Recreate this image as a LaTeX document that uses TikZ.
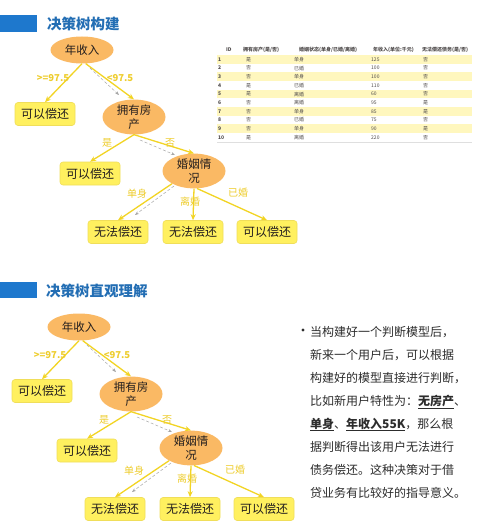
\documentclass[tikz,border=0pt]{standalone}
\usepackage{fontspec}
\setmainfont{Noto Sans CJK SC}
\usepackage{tikz}
\usetikzlibrary{shapes.geometric, arrows.meta}
\definecolor{barblue}{RGB}{30,120,205}
\definecolor{titleblue}{RGB}{35,110,180}
\definecolor{ellorange}{RGB}{250,185,100}
\definecolor{leafyellow}{RGB}{255,240,95}
\definecolor{leafedge}{RGB}{240,222,90}
\definecolor{arrowyellow}{RGB}{242,212,35}
\definecolor{labelyellow}{RGB}{238,205,45}
\definecolor{tblyellow}{RGB}{255,247,190}
\definecolor{mydark}{RGB}{35,30,30}
\definecolor{bodygray}{RGB}{45,45,45}
\newcommand{\keyword}[1]{\underline{\textbf{#1}}}
\tikzset{
  decnode/.style={ellipse, fill=ellorange, inner sep=0pt,
    minimum width=63pt, minimum height=27pt, align=center,
    font=\fontsize{11.5}{14}\selectfont, text=mydark},
  leafbox/.style={rectangle, rounded corners=3pt, fill=leafyellow,
    draw=leafedge, line width=0.6pt, minimum width=60pt,
    minimum height=23pt, inner sep=0pt,
    font=\fontsize{12}{14}\selectfont, text=mydark},
  yarrow/.style={-{Stealth[length=6pt,width=5pt]}, line width=1.3pt, color=arrowyellow},
  hintarrow/.style={-{Stealth[length=4pt,width=3pt]}, densely dashed,
    line width=0.5pt, color=gray!70},
  brlabel/.style={font=\fontsize{9.5}{10}\selectfont\bfseries, text=labelyellow, inner sep=0pt},
  wordlabel/.style={font=\fontsize{10}{11}\selectfont, text=labelyellow, inner sep=0pt},
  cell/.style={anchor=west, inner sep=0pt, font=\fontsize{5}{6}\selectfont, text=mydark!80},
  hdrcell/.style={cell, font=\fontsize{5}{6}\selectfont\bfseries},
  titletext/.style={anchor=west, inner sep=0pt,
    font=\fontsize{14.5}{16}\selectfont\bfseries, text=titleblue},
  bodyline/.style={anchor=base west, inner sep=0pt,
    font=\fontsize{12}{14}\selectfont, text=bodygray}
}

\begin{document}
\begin{tikzpicture}[x=1pt, y=-1pt]
  \useasboundingbox (0,0) rectangle (500,524);
  \fill[white] (0,0) rectangle (500,524);

  % Section headers
  \fill[barblue] (0,15) rectangle (37,32);
  \node[titletext] (title1) at (47,24) {决策树构建};
  \fill[barblue] (0,282) rectangle (37,298);
  \node[titletext] (title2) at (46,291) {决策树直观理解};

  % Both trees
  \foreach \dx/\dy/\t in {0/0/a, -3/277/b}{
    \begin{scope}[shift={(\dx,\dy)}]
      \node[decnode] (inc\t) at (82,50) {年收入};
      \node[leafbox] (pay\t) at (45,114) {可以偿还};
      \node[decnode, minimum height=34pt] (house\t) at (134,117) {拥有房\\产};
      \node[leafbox] (payh\t) at (90,173.5) {可以偿还};
      \node[decnode, minimum height=31pt] (mar\t) at (194,171) {婚姻情\\况};
      \node[leafbox] (nopays\t) at (118,232) {无法偿还};
      \node[leafbox] (nopayd\t) at (193,232) {无法偿还};
      \node[leafbox] (paym\t) at (267,232) {可以偿还};

      \draw[yarrow] (inc\t.south) -- (pay\t.north);
      \draw[yarrow] (inc\t.-75) -- (house\t.north);
      \draw[yarrow] (house\t.south) -- (payh\t.north);
      \draw[yarrow] (house\t.south) -- (mar\t.north);
      \draw[yarrow] (mar\t.-150) -- (nopays\t.north);
      \draw[yarrow] (mar\t.south) -- (nopayd\t.north);
      \draw[yarrow] (mar\t.-80) -- (paym\t.north);

      % decision path hints
      \coordinate (hs1\t) at (90,68);  \coordinate (he1\t) at (119,95);
      \coordinate (hs2\t) at (140,140); \coordinate (he2\t) at (175,155);
      \coordinate (hs3\t) at (174,186); \coordinate (he3\t) at (135,215);
      \draw[hintarrow] (hs1\t) -- (he1\t);
      \draw[hintarrow] (hs2\t) -- (he2\t);
      \draw[hintarrow] (hs3\t) -- (he3\t);

      \node[brlabel] (lge\t) at (53,78) {>=97.5};
      \node[brlabel] (llt\t) at (120,78) {<97.5};
      \node[wordlabel] (lyes\t) at (107,143) {是};
      \node[wordlabel] (lno\t) at (170,143) {否};
      \node[wordlabel] (lsgl\t) at (137,194) {单身};
      \node[wordlabel] (ldiv\t) at (190,202) {离婚};
      \node[wordlabel] (lmrd\t) at (238,193) {已婚};
    \end{scope}
  }

  % Data table
  \node[hdrcell] (hid) at (226,50) {ID};
  \node[hdrcell] (hhouse) at (243,50) {拥有房产(是/否)};
  \node[hdrcell] (hmar) at (299,50) {婚姻状态(单身/已婚/离婚)};
  \node[hdrcell] (hinc) at (373,50) {年收入(单位:千元)};
  \node[hdrcell] (hdebt) at (422,50) {无法偿还债务(是/否)};
  \foreach \hs/\ms/\inc/\dbt [count=\i] in {是/单身/125/否, 否/已婚/100/否,
      否/单身/100/否, 是/已婚/110/否, 是/离婚/60/否, 否/离婚/95/是,
      否/单身/85/是, 否/已婚/75/否, 否/单身/90/是, 是/离婚/220/否}{
    \pgfmathsetmacro\ry{59.5+8.65*(\i-1)}
    \ifodd\i\relax \fill[tblyellow] (217,\ry-4.3) rectangle (472,\ry+4.3); \fi
    \node[cell, font=\fontsize{5}{6}\selectfont\bfseries] (rid\i) at (218,\ry) {\i};
    \node[cell] (rhs\i) at (246,\ry) {\hs};
    \node[cell] (rms\i) at (294,\ry) {\ms};
    \node[cell] (rinc\i) at (371,\ry) {\inc};
    \node[cell] (rdbt\i) at (423,\ry) {\dbt};
  }
  \draw[gray!25, line width=0.4pt] (217,141.7) -- (472,141.7);

  % Explanation text
  \fill[bodygray] (303,330) circle (1.6pt);
  \foreach \ln [count=\k] in {{当构建好一个判断模型后，}, {新来一个用户后，可以根据},
      {构建好的模型直接进行判断，}, {比如新用户特性为：\keyword{无房产}、},
      {\keyword{单身}、\keyword{年收入55K}，那么根}, {据判断得出该用户无法进行},
      {债务偿还。这种决策对于借}, {贷业务有比较好的指导意义。}}
    \node[bodyline] (line\k) at (310,{336+23*(\k-1)}) {\ln};
\end{tikzpicture}
\end{document}
